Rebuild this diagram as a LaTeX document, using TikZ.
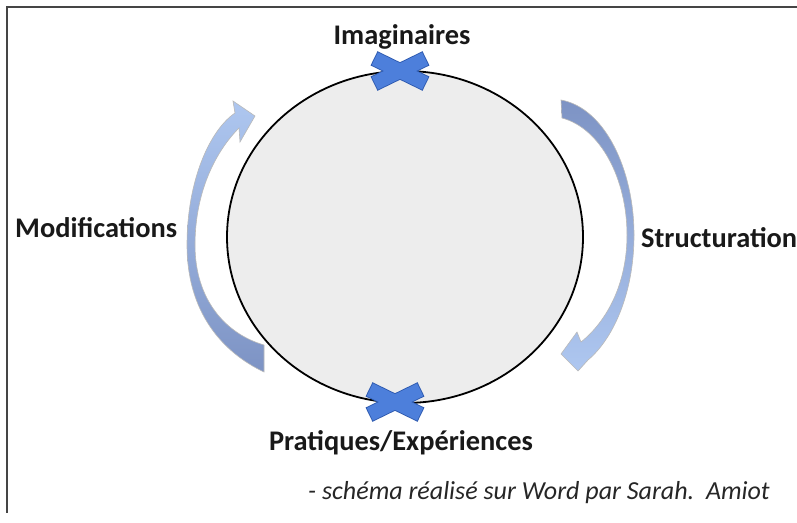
\documentclass[tikz,border=0pt]{standalone}
\usepackage{fontspec}
\setmainfont{Carlito}
\usetikzlibrary{shapes.geometric}
\definecolor{xblue}{HTML}{4D7FDB}
\definecolor{xedge}{HTML}{2F5BB0}
\definecolor{alight}{HTML}{AEC7F0}
\definecolor{adark}{HTML}{7D93C4}
\definecolor{framec}{HTML}{454545}
\definecolor{circfill}{HTML}{EDEDED}
\tikzset{
  lbl/.style={font=\bfseries\fontsize{28.4}{32}\selectfont, inner sep=0pt, anchor=base, text=black!90},
  captiontext/.style={font=\itshape\fontsize{26}{30}\selectfont, inner sep=0pt, anchor=base west, text=black!85},
  crossfill/.style={fill=xblue},
  crossedge/.style={draw=xedge, line width=1.8pt},
  barrow/.style={draw=gray!55, line width=0.6pt}
}
\begin{document}
\begin{tikzpicture}[x=1pt,y=-1pt]
\useasboundingbox (0,0) rectangle (797,522);
\fill[white] (0,0) rectangle (797,522);
% frame
\draw[framec, line width=2pt] (797,7) -- (7,7) -- (7,513);
% circle
\node[ellipse, draw=black, line width=1.8pt, fill=circfill, minimum width=356pt, minimum height=332pt, inner sep=0pt] (c) at (405,237) {};
% left curved arrow (Modifications)
\shade[top color=alight, bottom color=adark, barrow]
  (264,372) .. controls (222,352) and (187,312) .. (187,245)
  .. controls (187,180) and (210,130) .. (235,113)
  -- (233,101) -- (255,116) -- (240,142) -- (239,128)
  .. controls (217,150) and (195,190) .. (195,245)
  .. controls (195,300) and (226,334) .. (264,345) -- cycle;
% right curved arrow (Structuration)
\shade[top color=adark, bottom color=alight, barrow]
  (561,100) .. controls (605,108) and (634,170) .. (634,235)
  .. controls (634,295) and (612,340) .. (588,360)
  -- (578,371) -- (561,354) -- (577,332) -- (581,342)
  .. controls (606,322) and (627,285) .. (627,235)
  .. controls (627,178) and (600,128) .. (562,118) -- cycle;
% crosses
\foreach \cx/\cy in {400/71, 395/402}{
  \begin{scope}[shift={(\cx,\cy)}]
    \draw[crossedge, rotate=26] (-28,-7) rectangle (28,7);
    \draw[crossedge, rotate=-26] (-28,-7) rectangle (28,7);
    \fill[crossfill, rotate=26] (-28,-7) rectangle (28,7);
    \fill[crossfill, rotate=-26] (-28,-7) rectangle (28,7);
  \end{scope}
}
% labels
\node[lbl] (imag) at (402,44) {Imaginaires};
\node[lbl] (prat) at (401,450) {Pratiques/Expériences};
\node[lbl, anchor=base west] (modif) at (15,237) {Modifications};
\node[lbl, anchor=base west] (struct) at (641,247) {Structuration};
\node[captiontext] (caption) at (308,499) {- schéma réalisé sur Word par Sarah.\ \ Amiot};
\end{tikzpicture}
\end{document}
